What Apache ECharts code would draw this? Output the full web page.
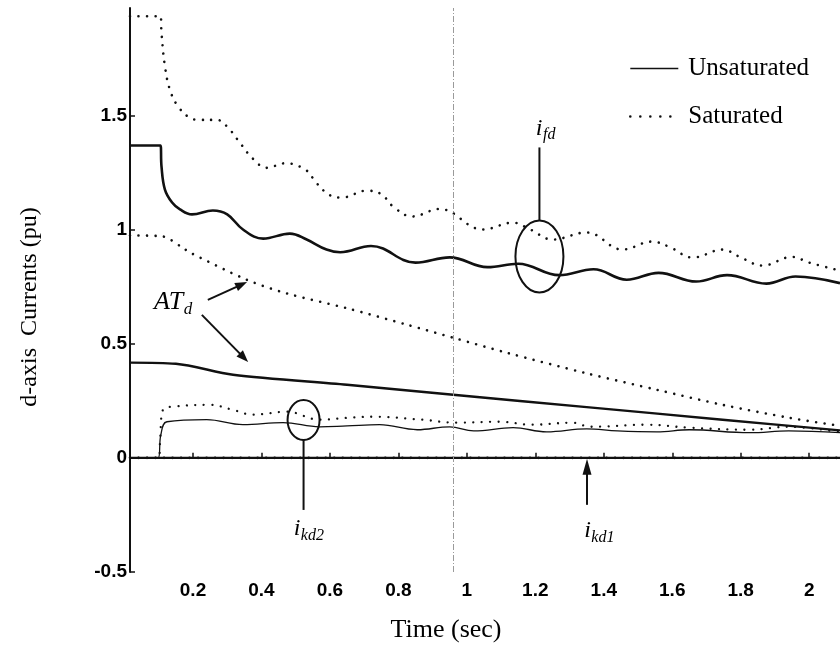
<!DOCTYPE html>
<html>
<head>
<meta charset="utf-8">
<script src="https://cdn.jsdelivr.net/npm/echarts@6/dist/echarts.min.js"></script>
<style>
  html, body { margin: 0; padding: 0; background: #fff; }
  #chart { width: 840px; height: 650px; }
</style>
</head>
<body>
<div id="chart"></div>
<script>
// Field current i_fd (pu) versus time (s)
const ifdUnsatT = [0.016, 0.105, 0.108, 0.118, 0.139, 0.162, 0.197, 0.258, 0.30, 0.346, 0.405, 0.483, 0.532, 0.59, 0.63, 0.72, 0.85, 0.95, 1.06, 1.15, 1.27, 1.37, 1.467, 1.56, 1.67, 1.76, 1.875, 1.96, 2.09];
const ifdUnsatV = [1.368, 1.368, 1.276, 1.175, 1.118, 1.088, 1.066, 1.083, 1.066, 1.0, 0.96, 0.982, 0.956, 0.912, 0.90, 0.928, 0.855, 0.878, 0.835, 0.85, 0.80, 0.826, 0.78, 0.81, 0.772, 0.80, 0.763, 0.794, 0.765];
const ifdSatT = [0.016, 0.105, 0.108, 0.118, 0.133, 0.156, 0.19, 0.22, 0.27, 0.30, 0.337, 0.375, 0.415, 0.47, 0.53, 0.56, 0.60, 0.635, 0.707, 0.75, 0.785, 0.84, 0.92, 1.047, 1.135, 1.185, 1.25, 1.35, 1.455, 1.54, 1.59, 1.66, 1.747, 1.797, 1.864, 1.95, 2.0, 2.09];
const ifdSatV = [1.934, 1.934, 1.86, 1.715, 1.61, 1.54, 1.49, 1.48, 1.48, 1.45, 1.38, 1.31, 1.27, 1.29, 1.26, 1.205, 1.15, 1.14, 1.17, 1.155, 1.10, 1.057, 1.09, 1.0, 1.03, 1.0, 0.956, 0.987, 0.912, 0.947, 0.925, 0.877, 0.912, 0.88, 0.842, 0.88, 0.855, 0.82];

// Armature reaction AT_d (pu)
const atdUnsatT = [0.016, 0.15, 0.317, 0.65, 0.96, 1.35, 1.747, 2.09];
const atdUnsatV = [0.417, 0.412, 0.364, 0.32, 0.276, 0.222, 0.167, 0.12];
const atdSatT = [0.016, 0.11, 0.17, 0.19, 0.357, 0.474, 0.65, 0.825, 0.96, 1.117, 1.35, 1.555, 1.747, 1.943, 2.09];
const atdSatV = [0.974, 0.97, 0.92, 0.90, 0.78, 0.72, 0.655, 0.583, 0.526, 0.46, 0.37, 0.298, 0.232, 0.175, 0.14];

// Damper current i_kd2 (pu)
const ikd2UnsatT = [0.016, 0.098, 0.106, 0.124, 0.24, 0.346, 0.463, 0.57, 0.65, 0.745, 0.855, 0.95, 1.02, 1.135, 1.233, 1.35, 1.44, 1.555, 1.65, 1.826, 1.94, 2.09];
const ikd2UnsatV = [0, 0, 0.10, 0.158, 0.167, 0.145, 0.154, 0.136, 0.14, 0.145, 0.123, 0.136, 0.118, 0.132, 0.114, 0.127, 0.118, 0.114, 0.123, 0.11, 0.118, 0.11];
const ikd2SatT = [0.016, 0.1, 0.104, 0.112, 0.142, 0.25, 0.317, 0.375, 0.474, 0.57, 0.65, 0.726, 0.87, 0.97, 1.096, 1.19, 1.31, 1.36, 1.525, 1.65, 1.826, 1.94, 2.09];
const ikd2SatV = [0, 0, 0.08, 0.21, 0.224, 0.232, 0.21, 0.189, 0.202, 0.167, 0.175, 0.18, 0.167, 0.154, 0.158, 0.145, 0.154, 0.136, 0.145, 0.132, 0.123, 0.136, 0.112];

// Damper current i_kd1 (pu)
const ikd1T = [0.016, 2.09];
const ikd1UnsatV = [0, 0];
const ikd1SatV = [0, 0];

// Axis ticks
const xTicks = [0.2, 0.4, 0.6, 0.8, 1, 1.2, 1.4, 1.6, 1.8, 2];
const yTicks = [-0.5, 0, 0.5, 1, 1.5];

const ink = '#111';
const serif = 'Liberation Serif';
const dotted = { color: ink, width: 2.6, type: [0.01, 8.5], cap: 'round' };

function pairs(t, v) { return t.map((x, i) => [x, v[i]]); }
function trace(name, t, v, lineStyle, smooth) {
  return { name, type: 'line', data: pairs(t, v), symbol: 'none', smooth: smooth, silent: true,
    itemStyle: { color: ink }, lineStyle };
}

const chart = echarts.init(document.getElementById('chart'), null, { renderer: 'canvas' });

chart.setOption({
  animation: false,
  backgroundColor: '#fff',
  grid: { left: 130, right: 0, top: 8, bottom: 78, outerBoundsMode: 'none' },
  legend: {
    orient: 'vertical', left: 624, top: 51, itemWidth: 48, itemHeight: 14, itemGap: 23,
    selectedMode: false,
    itemStyle: { opacity: 0 },
    textStyle: { fontFamily: serif, fontSize: 25, color: '#000', padding: [0, 0, 0, 5] },
    data: [
      { name: 'Unsaturated', lineStyle: { width: 1.5 } },
      { name: 'Saturated', lineStyle: { width: 2.6, type: [0.01, 10], cap: 'round' } }
    ]
  },
  xAxis: {
    type: 'value', min: 0.016, max: 2.09,
    name: 'Time (sec)', nameLocation: 'middle', nameGap: 45,
    nameTextStyle: { fontFamily: serif, fontSize: 26, color: '#000', padding: [0, 78, 0, 0] },
    axisLine: { show: true, lineStyle: { color: ink, width: 2 } },
    axisTick: { show: true, inside: true, length: 5, customValues: xTicks, lineStyle: { color: ink, width: 1.5 } },
    axisLabel: { customValues: xTicks, color: '#000', fontFamily: 'Liberation Sans', fontWeight: 'bold', fontSize: 19, margin: 9 },
    splitLine: { show: false }
  },
  yAxis: {
    type: 'value', min: -0.5, max: 1.97,
    name: 'd-axis  Currents (pu)', nameLocation: 'middle', nameGap: 88, nameRotate: 90,
    nameTextStyle: { fontFamily: serif, fontSize: 24, color: '#000', padding: [0, 34, 0, 0] },
    axisLine: { show: true, lineStyle: { color: ink, width: 2 } },
    axisTick: { show: true, inside: true, length: 5, customValues: yTicks, lineStyle: { color: ink, width: 1.5 } },
    axisLabel: { customValues: yTicks, color: '#000', fontFamily: 'Liberation Sans', fontWeight: 'bold', fontSize: 19, margin: 3 },
    splitLine: { show: false }
  },
  series: [
    Object.assign(trace('Unsaturated', ifdUnsatT, ifdUnsatV, { color: ink, width: 2.6 }, 0.4), {
      markLine: {
        silent: true, symbol: 'none', label: { show: false },
        lineStyle: { color: '#9a9a9a', width: 1, type: [6, 2, 1, 2] },
        data: [{ xAxis: 0.965 }]
      }
    }),
    trace('Saturated', ifdSatT, ifdSatV, dotted, 0.4),
    trace('ATd unsaturated', atdUnsatT, atdUnsatV, { color: ink, width: 2.4 }, 0.3),
    trace('ATd saturated', atdSatT, atdSatV, dotted, 0.3),
    trace('ikd2 unsaturated', ikd2UnsatT, ikd2UnsatV, { color: ink, width: 1.3 }, 0.4),
    trace('ikd2 saturated', ikd2SatT, ikd2SatV, { color: ink, width: 2.3, type: [0.01, 8.5], cap: 'round' }, 0.4),
    trace('ikd1 saturated', ikd1T, ikd1SatV, dotted, false),
    trace('ikd1 unsaturated', ikd1T, ikd1UnsatV, { color: ink, width: 2 }, false)
  ]
});

// ---- annotations: ellipses, leaders, arrows and subscripted labels ----
const measureCtx = document.createElement('canvas').getContext('2d');
function textWidth(s, size) {
  measureCtx.font = 'italic ' + size + 'px "' + serif + '"';
  return measureCtx.measureText(s).width;
}
function px(p) { return chart.convertToPixel({ gridIndex: 0 }, p); }

const g = [];
function subLabel(main, sub, cx, cy, big, small) {
  big = big || 24; small = small || 16;
  const wm = textWidth(main, big), ws = textWidth(sub, small);
  const x0 = cx - (wm + ws) / 2;
  g.push({ type: 'text', x: x0, y: cy, silent: true,
    style: { text: main, fontFamily: serif, fontStyle: 'italic', fontSize: big, fill: '#000', verticalAlign: 'middle', align: 'left' } });
  g.push({ type: 'text', x: x0 + wm + 0.5, y: cy + big * 0.28, silent: true,
    style: { text: sub, fontFamily: serif, fontStyle: 'italic', fontSize: small, fill: '#000', verticalAlign: 'middle', align: 'left' } });
}
function ring(cx, cy, rx, ry) {
  g.push({ type: 'ellipse', silent: true, shape: { cx, cy, rx, ry }, style: { fill: 'none', stroke: ink, lineWidth: 2 } });
}
function leader(x1, y1, x2, y2) {
  g.push({ type: 'line', silent: true, shape: { x1, y1, x2, y2 }, style: { stroke: ink, lineWidth: 2 } });
}
function arrow(x1, y1, x2, y2, head, half) {
  const dx = x2 - x1, dy = y2 - y1, L = Math.hypot(dx, dy), ux = dx / L, uy = dy / L;
  const bx = x2 - ux * head, by = y2 - uy * head;
  leader(x1, y1, bx + ux, by + uy);
  g.push({ type: 'polygon', silent: true,
    shape: { points: [[x2, y2], [bx - uy * half, by + ux * half], [bx + uy * half, by - ux * half]] },
    style: { fill: ink } });
}

// i_fd marker
const fd = px([1.212, 0.882]);
ring(fd[0], fd[1], 24, 36);
leader(fd[0], fd[1] - 36, fd[0], fd[1] - 109);
subLabel('i', 'fd', fd[0] + 6, fd[1] - 128);

// i_kd2 marker
const kd2 = px([0.523, 0.166]);
ring(kd2[0], kd2[1], 16, 20);
leader(kd2[0], kd2[1] + 20, kd2[0], kd2[1] + 90);
subLabel('i', 'kd2', kd2[0] + 5, kd2[1] + 109);

// i_kd1 arrow
const kd1 = px([1.351, 0]);
arrow(kd1[0], kd1[1] + 47, kd1[0], kd1[1] + 1, 16, 4.5);
subLabel('i', 'kd1', kd1[0] + 12, kd1[1] + 73);

// AT_d label with arrows to both traces
const at = px([0.147, 0.683]);
subLabel('AT', 'd', at[0] - 2, at[1], 26, 17);
const tipSat = px([0.358, 0.77]);
const tipUnsat = px([0.361, 0.42]);
arrow(at[0] + 33, at[1] - 2, tipSat[0], tipSat[1], 12, 4.5);
arrow(at[0] + 27, at[1] + 13, tipUnsat[0], tipUnsat[1], 12, 4.5);

chart.setOption({ graphic: { elements: g } });
</script>
</body>
</html>
